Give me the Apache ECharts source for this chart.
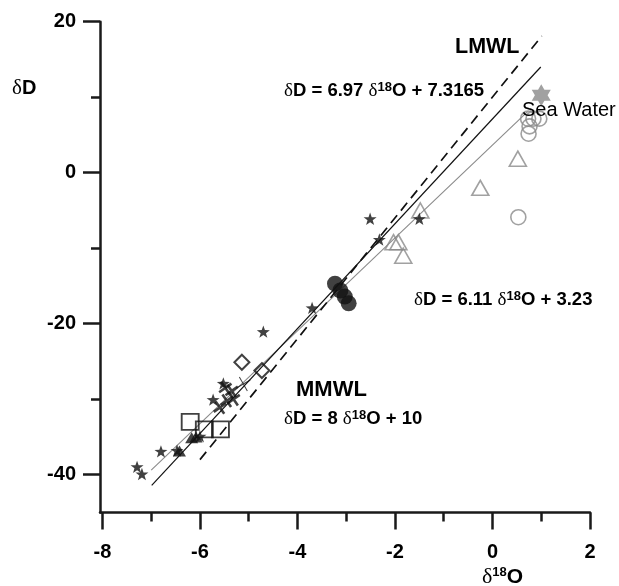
<!DOCTYPE html>
<html><head><meta charset="utf-8">
<script src="https://cdn.jsdelivr.net/npm/echarts@6/dist/echarts.min.js"></script>
<style>html,body{margin:0;padding:0;background:#fff}#c{width:619px;height:586px}</style>
</head><body><div id="c"></div>
<script>
// axis ranges and ticks
const xMin = -8.05, xMax = 2, yMin = -45, yMax = 20;
const xMajorTicks = [-8, -6, -4, -2, 0, 2];
const xMinorTicks = [-7, -5, -3, -1, 1];
const yMajorTicks = [20, 0, -20, -40];
const yMinorTicks = [10, -10, -30];

// reference lines (end points)
const dashedLine = [[-6.0, -38.0], [1.01, 18.1]];   // δD = 8 δ18O + 10
const blackLine = [[-6.99, -41.4], [0.99, 14.0]];   // δD = 6.97 δ18O + 7.3165
const grayLine = [[-7.0, -39.4], [0.72, 8.1]];      // δD = 6.11 δ18O + 3.23

// samples
const blackStars = [[-7.29, -38.95], [-7.19, -39.9], [-6.8, -36.9], [-6.47, -36.8], [-6.0, -34.9],
  [-5.73, -30.05], [-5.52, -27.9], [-4.70, -21.05], [-3.70, -17.9], [-2.51, -6.1], [-2.32, -8.85], [-1.50, -6.1]];
const blackTriangles = [[-6.42, -36.85], [-6.17, -35.1], [-6.08, -35.0]];
const blackCircles = [[-3.23, -14.7], [-3.12, -15.6], [-3.03, -16.4], [-2.95, -17.3]];
const diamonds = [[-5.14, -25.1], [-4.73, -26.2]];
const squares = [[-6.2, -33.0], [-5.91, -34.0], [-5.58, -34.0]];
const thickCrosses = [[-5.48, -28.5], [-5.35, -28.9], [-5.31, -30.0], [-5.59, -31.1], [-5.45, -30.2]];
const thinCrosses = [[-5.11, -27.98]];
const grayTriangles = [[-1.48, -5.0], [-2.03, -9.2], [-1.93, -9.2], [-1.83, -11.0], [-0.25, -2.0], [0.52, 1.86]];
const grayCircles = [[0.53, -5.89], [0.74, 5.17], [0.76, 6.14], [0.84, 7.16], [0.96, 7.16], [0.73, 7.16]];
const seaWater = [[1.0, 10.25]];

const SANS = 'Liberation Sans', SERIF = 'Liberation Serif';
const INK = '#111', TXT = '#000', GRAY = '#8a8a8a';
const star5 = 'path://M0,-10 L2.35,-3.24 L9.51,-3.09 L3.8,1.24 L5.88,8.09 L0,4 L-5.88,8.09 L-3.8,1.24 L-9.51,-3.09 L-2.35,-3.24 Z';
const star6 = 'path://M0,-10 L2.887,-5 L8.66,-5 L5.774,0 L8.66,5 L2.887,5 L0,10 L-2.887,5 L-8.66,5 L-5.774,0 L-8.66,-5 L-2.887,-5 Z';
const plus = 'path://M-10,0 L10,0 M0,-10 L0,10';

const chart = echarts.init(document.getElementById('c'), null, {renderer: 'canvas'});

const gridPos = {left: 100, right: 29, top: 21.7, bottom: 73.5};
const tickStyle = {color: '#1a1a1a', width: 2.5};
const labelStyle = {fontFamily: SANS, fontWeight: 'bold', fontSize: 20, color: TXT};

function sc(name, data, extra) {
  return Object.assign({type: 'scatter', name, data, xAxisIndex: 0, yAxisIndex: 0, z: 5}, extra);
}
function ln(data, lineStyle) {
  return {type: 'line', data, xAxisIndex: 0, yAxisIndex: 0, showSymbol: false, symbol: 'none',
    lineStyle, silent: true, z: 3, animation: false};
}

const eq = (a, b) => `{s|δ}{b|D = ${a} }{s|δ}{u|18}{b|O + ${b}}`;
const eqRich = {
  s: {fontFamily: SERIF, fontSize: 19, fill: TXT, color: TXT, lineHeight: 21},
  b: {fontFamily: SANS, fontWeight: 'bold', fontSize: 18.5, fill: TXT, color: TXT, lineHeight: 21},
  u: {fontFamily: SANS, fontWeight: 'bold', fontSize: 13, fill: TXT, color: TXT, verticalAlign: 'top', lineHeight: 13}
};
function txt(x, y, text, rich, font) {
  const st = {text, x: 0, y: 0, align: 'left', textAlign: 'left', verticalAlign: 'middle', textVerticalAlign: 'middle', fill: TXT};
  if (rich) st.rich = rich;
  if (font) st.font = font;
  return {type: 'text', x, y, style: st, z: 10};
}

const option = {
  animation: false,
  backgroundColor: '#fff',
  grid: [Object.assign({}, gridPos), Object.assign({}, gridPos)],
  xAxis: [
    {type: 'value', gridIndex: 0, min: xMin, max: xMax, position: 'bottom',
      axisLine: {show: true, onZero: false, lineStyle: tickStyle},
      axisTick: {show: true, customValues: xMajorTicks, length: 17, lineStyle: tickStyle},
      axisLabel: Object.assign({show: true, customValues: xMajorTicks, margin: 30}, labelStyle),
      splitLine: {show: false}},
    {type: 'value', gridIndex: 1, min: xMin, max: xMax, position: 'bottom',
      axisLine: {show: false, onZero: false},
      axisTick: {show: true, customValues: xMinorTicks, length: 9, lineStyle: tickStyle},
      axisLabel: {show: false}, splitLine: {show: false}}
  ],
  yAxis: [
    {type: 'value', gridIndex: 0, min: yMin, max: yMax, position: 'left',
      axisLine: {show: true, onZero: false, lineStyle: tickStyle},
      axisTick: {show: true, customValues: yMajorTicks, length: 17, lineStyle: tickStyle},
      axisLabel: Object.assign({show: true, customValues: yMajorTicks, margin: 24}, labelStyle),
      splitLine: {show: false}},
    {type: 'value', gridIndex: 1, min: yMin, max: yMax, position: 'left',
      axisLine: {show: false, onZero: false},
      axisTick: {show: true, customValues: yMinorTicks, length: 9, lineStyle: tickStyle},
      axisLabel: {show: false}, splitLine: {show: false}}
  ],
  series: [
    ln(grayLine, {color: GRAY, width: 1.1, type: 'solid'}),
    ln(blackLine, {color: INK, width: 1.2, type: 'solid'}),
    ln(dashedLine, {color: INK, width: 1.7, type: [10, 6]}),
    sc('gray circles', grayCircles, {symbol: 'circle', symbolSize: 15,
      itemStyle: {color: 'transparent', borderColor: GRAY, borderWidth: 1.6}}),
    sc('gray triangles', grayTriangles, {symbol: 'triangle', symbolSize: [17, 15],
      itemStyle: {color: 'transparent', borderColor: GRAY, borderWidth: 1.6}}),
    sc('sea water', seaWater, {symbol: star6, symbolSize: 22, symbolKeepAspect: true,
      itemStyle: {color: GRAY}}),
    sc('squares', squares, {symbol: 'rect', symbolSize: [17, 16],
      itemStyle: {color: 'transparent', borderColor: INK, borderWidth: 1.8}}),
    sc('diamonds', diamonds, {symbol: 'diamond', symbolSize: 15,
      itemStyle: {color: 'transparent', borderColor: INK, borderWidth: 2}}),
    sc('thick crosses', thickCrosses, {symbol: plus, symbolSize: 15, symbolRotate: 35,
      itemStyle: {color: 'transparent', borderColor: INK, borderWidth: 2.6}}),
    sc('thin crosses', thinCrosses, {symbol: plus, symbolSize: 16, symbolRotate: 30,
      itemStyle: {color: 'transparent', borderColor: INK, borderWidth: 1}}),
    sc('black triangles', blackTriangles, {symbol: 'triangle', symbolSize: [13, 11],
      itemStyle: {color: INK}}),
    sc('black circles', blackCircles, {symbol: 'circle', symbolSize: 16,
      itemStyle: {color: INK}}),
    sc('black stars', blackStars, {symbol: star5, symbolSize: 13, symbolKeepAspect: true,
      itemStyle: {color: INK}})
  ],
  graphic: [
    txt(12, 88, '{s|δ}{b|D}', {
      s: {fontFamily: SERIF, fontSize: 21, fill: TXT, color: TXT},
      b: {fontFamily: SANS, fontWeight: 'bold', fontSize: 20, fill: TXT, color: TXT}}),
    txt(482, 577, '{s|δ}{u|18}{b|O}', {
      s: {fontFamily: SERIF, fontSize: 22, fill: TXT, color: TXT, lineHeight: 22},
      u: {fontFamily: SANS, fontWeight: 'bold', fontSize: 13, fill: TXT, color: TXT, verticalAlign: 'top', lineHeight: 13},
      b: {fontFamily: SANS, fontWeight: 'bold', fontSize: 21, fill: TXT, color: TXT, lineHeight: 22}}),
    txt(455, 47.5, 'LMWL', null, 'bold 21.5px "Liberation Sans"'),
    txt(284, 91, eq('6.97', '7.3165'), eqRich),
    txt(522, 110.5, 'Sea Water', null, '20px "Liberation Sans"'),
    txt(414, 300, eq('6.11', '3.23'), eqRich),
    txt(296, 389.5, 'MMWL', null, 'bold 22px "Liberation Sans"'),
    txt(284, 419, eq('8', '10'), eqRich)
  ]
};
chart.setOption(option);
</script>
</body></html>
